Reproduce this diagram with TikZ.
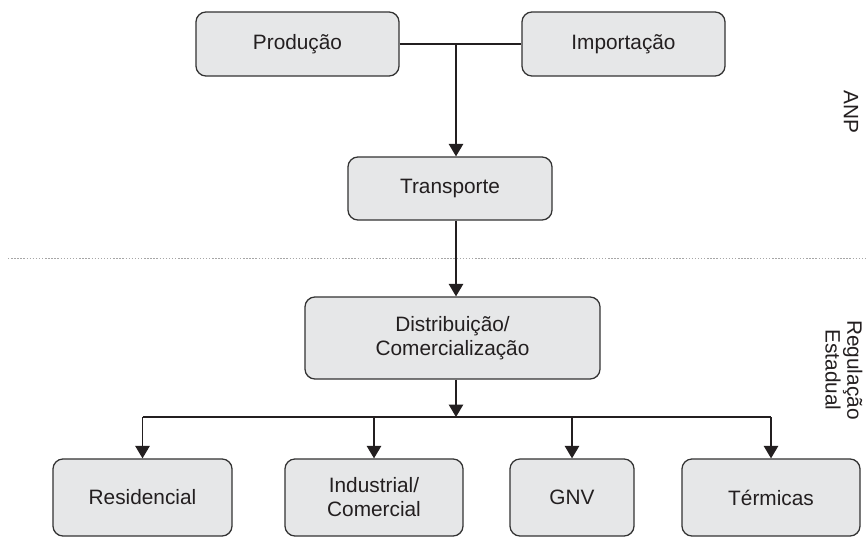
\documentclass[tikz,border=0pt]{standalone}
\usepackage{fontspec}
\setmainfont{Liberation Sans}
\usetikzlibrary{calc,arrows.meta,positioning}
\definecolor{boxgray}{HTML}{E6E7E8}
\definecolor{linegray}{HTML}{333333}
\definecolor{txtgray}{HTML}{231F20}
\tikzset{box/.style={draw=linegray,fill=boxgray,line width=0.9pt,rounded corners=0.25cm,
    text=txtgray,align=center,font=\fontsize{14.8}{17}\selectfont,inner sep=0pt},
  arr/.style={-{Triangle[length=0.31cm,width=0.36cm]},line width=0.85pt,draw=txtgray},
  wire/.style={line width=0.85pt,draw=txtgray},
  side/.style={text=txtgray,rotate=-90,align=center,font=\fontsize{14.8}{15.5}\selectfont}}

\begin{document}
\begin{tikzpicture}[x=0.025cm,y=-0.025cm]

\useasboundingbox (0,0) rectangle (866,538);

% Nodes
\node[box,minimum width=5.075cm,minimum height=1.6cm] (prod) at (297.5,44) {Produção};
\node[box,minimum width=5.075cm,minimum height=1.6cm] (imp)  at (623.5,44) {Importação};
\node[box,minimum width=5.1cm,minimum height=1.575cm] (trans) at (450,188.5) {Transporte};
\node[box,minimum width=7.375cm,minimum height=2.05cm] (dist) at (452.5,338) {Distribuição/\\Comercialização};

\node[box,minimum width=4.475cm,minimum height=1.925cm] (res)  at (142.5,497.5) {Residencial};
\node[box,minimum width=4.45cm,minimum height=1.925cm]  (ind)  at (374,497.5) {Industrial/\\Comercial};
\node[box,minimum width=3.1cm,minimum height=1.925cm]   (gnv)  at (572,497.5) {GNV};
\node[box,minimum width=4.45cm,minimum height=1.925cm]  (term) at (771,497.5) {Térmicas};

% Junctions
\coordinate (topj) at (456,44);
\coordinate (busj) at (456,417);

% Connectors
\draw[wire] (prod.east) -- (imp.west);
\draw[arr] (topj) -- (topj |- trans.north);
\draw[arr] (topj |- trans.south) -- (topj |- dist.north);
\draw[arr] (topj |- dist.south) -- (busj);
\draw[wire] (res.north |- busj) -- (term.north |- busj);
\draw[arr] (res.north |- busj) -- (res.north);
\draw[arr] (ind.north |- busj) -- (ind.north);
\draw[arr] (gnv.north |- busj) -- (gnv.north);
\draw[arr] (term.north |- busj) -- (term.north);

% Regulation split
\draw[gray!70,line width=0.7pt,dash pattern=on 1pt off 1.2pt] (8,258) -- (866,258);
\node[side] (anp) at (851,112) {ANP};
\node[side] (est) at (844,370) {Regulação\\Estadual};

\end{tikzpicture}
\end{document}
